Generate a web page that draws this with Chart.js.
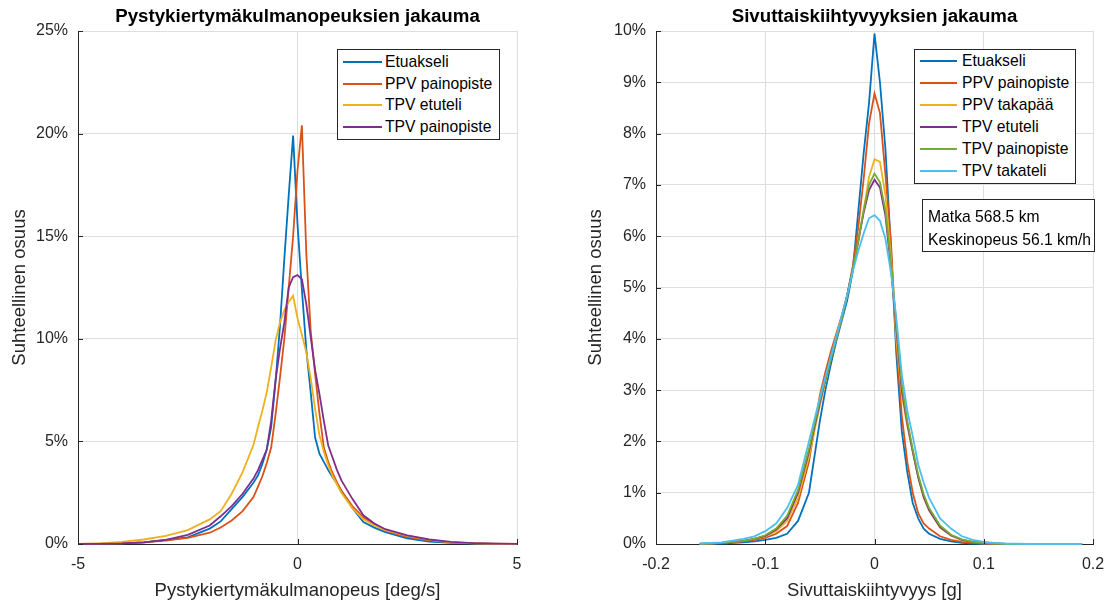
<!DOCTYPE html>
<html>
<head>
<meta charset="utf-8">
<script src="https://cdn.jsdelivr.net/npm/chart.js@4.4.1/dist/chart.umd.min.js"></script>
<style>
  html, body { margin: 0; padding: 0; background: #fff; }
  #wrap { position: relative; width: 1109px; height: 602px; overflow: hidden;
          font-family: "Liberation Sans", Arial, sans-serif; }
  canvas { position: absolute; top: 0; }
  .box { position: absolute; border: 1px solid #262626; background: #fff; box-sizing: border-box; }
  .row { position: absolute; height: 18px; line-height: 18px; font-size: 15.7px; color: #000; white-space: nowrap; }
  .sw { position: absolute; height: 2px; }
</style>
</head>
<body>
<div id="wrap">
  <canvas id="left" width="554" height="602" style="left:0"></canvas>
  <canvas id="right" width="555" height="602" style="left:554px"></canvas>
  <div id="legendLeft" class="box" style="left:337px;top:49px;width:163px;height:91px"></div>
  <div id="legendRight" class="box" style="left:914px;top:49px;width:162px;height:135px"></div>
  <div id="note" class="box" style="left:922px;top:199px;width:173px;height:53px"></div>
</div>
<script>
// Pitch-rate distribution (deg/s -> share in %)
const pitchRate = [-5, -4.5, -4, -3.5, -3, -2.5, -2, -1.75, -1.5, -1.25, -1, -0.9, -0.8, -0.7, -0.6, -0.5, -0.4, -0.3, -0.2, -0.1, 0,
                   0.1, 0.2, 0.3, 0.4, 0.5, 0.6, 0.7, 0.8, 0.9, 1, 1.25, 1.5, 1.75, 2, 2.5, 3, 3.5, 4, 4.5, 5];
const pitchEtuakseli = [0, 0.01, 0.03, 0.08, 0.2, 0.32, 0.75, 1.1, 1.7, 2.3, 3.0, 3.35, 3.9, 4.6, 5.7, 7.9, 10.6, 13.9, 17.0, 19.9, 15.6,
                        12.4, 9.5, 7.4, 5.2, 4.4, 4.0, 3.6, 3.25, 2.95, 2.6, 1.75, 1.07, 0.8, 0.58, 0.28, 0.12, 0.05, 0.02, 0.01, 0];
const pitchPpvPaino = [0, 0.02, 0.03, 0.08, 0.17, 0.3, 0.55, 0.8, 1.15, 1.6, 2.3, 2.8, 3.3, 3.95, 4.7, 6.3, 8.1, 10.0, 12.5, 15.0, 18.2,
                       20.4, 14.2, 10.4, 8.3, 6.35, 4.7, 4.0, 3.45, 3.0, 2.6, 1.85, 1.3, 0.95, 0.65, 0.35, 0.18, 0.08, 0.04, 0.02, 0.01];
const pitchTpvEtuteli = [0.01, 0.03, 0.1, 0.22, 0.4, 0.68, 1.2, 1.6, 2.45, 3.5, 4.85, 5.7, 6.5, 7.4, 8.6, 9.9, 10.8, 11.4, 11.8, 12.1, 11.0,
                         10.2, 9.35, 8.1, 6.6, 5.3, 4.5, 3.85, 3.3, 2.9, 2.5, 1.75, 1.2, 0.9, 0.68, 0.4, 0.2, 0.08, 0.03, 0.01, 0];
const pitchTpvPaino = [0, 0.01, 0.03, 0.08, 0.2, 0.45, 0.9, 1.35, 1.85, 2.45, 3.2, 3.6, 4.1, 4.6, 6.0, 8.0, 9.5, 10.8, 12.5, 13.0, 13.1,
                       12.9, 11.7, 10.1, 8.5, 7.3, 6.0, 4.8, 4.2, 3.6, 3.1, 2.2, 1.4, 1.0, 0.72, 0.42, 0.22, 0.1, 0.04, 0.02, 0.01];
const pitchTicks = [-5, 0, 5];

// Lateral acceleration distribution (g -> share in %)
const latAcc = [-0.16, -0.14, -0.12, -0.11, -0.1, -0.09, -0.08, -0.07, -0.06, -0.05, -0.045, -0.04, -0.035, -0.03, -0.025, -0.02, -0.015, -0.01, -0.005, 0,
                0.005, 0.01, 0.015, 0.02, 0.025, 0.03, 0.035, 0.04, 0.045, 0.05, 0.06, 0.07, 0.08, 0.09, 0.1, 0.11, 0.12, 0.14, 0.16, 0.19];
const latEtuakseli = [0, 0.01, 0.03, 0.05, 0.08, 0.12, 0.2, 0.45, 1.0, 2.4, 3.0, 3.5, 3.95, 4.35, 4.75, 5.3, 6.45, 7.6, 8.6, 9.95,
                      9.0, 7.7, 5.8, 3.7, 2.2, 1.4, 0.8, 0.5, 0.3, 0.2, 0.1, 0.05, 0.02, 0.01, 0, 0, 0, 0, 0, 0];
const latPpvPaino = [0, 0.02, 0.05, 0.08, 0.12, 0.2, 0.35, 0.8, 1.6, 2.9, 3.35, 3.75, 4.1, 4.45, 4.85, 5.4, 6.15, 7.1, 8.2, 8.78,
                     8.4, 7.2, 5.9, 3.9, 2.5, 1.6, 1.0, 0.6, 0.4, 0.3, 0.15, 0.08, 0.04, 0.02, 0.01, 0, 0, 0, 0, 0];
const latPpvTaka = [0, 0.02, 0.06, 0.1, 0.15, 0.25, 0.45, 0.9, 1.7, 2.7, 3.15, 3.6, 4.0, 4.4, 4.85, 5.35, 5.85, 6.5, 7.15, 7.5,
                    7.45, 6.8, 5.6, 4.0, 2.9, 2.3, 1.8, 1.3, 0.9, 0.65, 0.32, 0.16, 0.08, 0.04, 0.02, 0.01, 0, 0, 0, 0];
const latTpvEtuteli = [0, 0.02, 0.06, 0.1, 0.16, 0.28, 0.5, 1.0, 1.8, 2.75, 3.2, 3.6, 4.0, 4.4, 4.85, 5.35, 5.9, 6.45, 6.9, 7.1,
                       6.95, 6.4, 5.4, 4.2, 3.0, 2.35, 1.8, 1.3, 0.92, 0.66, 0.33, 0.17, 0.08, 0.04, 0.02, 0.01, 0, 0, 0, 0];
const latTpvPaino = [0, 0.02, 0.06, 0.1, 0.17, 0.3, 0.55, 1.05, 1.85, 2.8, 3.2, 3.6, 4.0, 4.4, 4.85, 5.35, 5.9, 6.5, 7.0, 7.22,
                     7.05, 6.5, 5.5, 4.3, 3.1, 2.4, 1.85, 1.35, 0.97, 0.7, 0.36, 0.18, 0.09, 0.04, 0.02, 0.01, 0, 0, 0, 0];
const latTpvTaka = [0.01, 0.03, 0.1, 0.15, 0.25, 0.4, 0.7, 1.15, 2.0, 2.85, 3.25, 3.65, 4.05, 4.45, 4.85, 5.3, 5.7, 6.05, 6.35, 6.41,
                    6.3, 5.95, 5.3, 4.4, 3.3, 2.6, 2.1, 1.55, 1.2, 0.9, 0.5, 0.3, 0.15, 0.08, 0.04, 0.02, 0.01, 0, 0, 0];
const latTicks = [-0.2, -0.1, 0, 0.1, 0.2];

const pitchNames = ['Etuakseli', 'PPV painopiste', 'TPV etuteli', 'TPV painopiste'];
const latNames = ['Etuakseli', 'PPV painopiste', 'PPV takapää', 'TPV etuteli', 'TPV painopiste', 'TPV takateli'];
const noteLines = ['Matka 568.5 km', 'Keskinopeus 56.1 km/h'];

const C = { blue: '#0072BD', orange: '#D95319', yellow: '#EDB120', purple: '#7E2F8E', green: '#77AC30', cyan: '#4DBEEE' };
const pitchColors = [C.blue, C.orange, C.yellow, C.purple];
const latColors = [C.blue, C.orange, C.yellow, C.purple, C.green, C.cyan];

const FONT = '"Liberation Sans", Arial, sans-serif';
Chart.defaults.font.family = FONT;
Chart.defaults.color = '#262626';

// short inward tick marks on the left and bottom axes
const innerTicks = {
  id: 'innerTicks',
  afterDatasetsDraw(chart) {
    const { ctx, chartArea: a, scales: { x, y } } = chart;
    ctx.save();
    ctx.strokeStyle = '#262626';
    ctx.lineWidth = 1;
    ctx.beginPath();
    x.ticks.forEach(t => {
      const px = Math.round(x.getPixelForValue(t.value)) + 0.5;
      ctx.moveTo(px, a.bottom); ctx.lineTo(px, a.bottom - 5);
    });
    y.ticks.forEach(t => {
      const py = Math.round(y.getPixelForValue(t.value)) + 0.5;
      ctx.moveTo(a.left, py); ctx.lineTo(a.left + 5, py);
    });
    ctx.stroke();
    ctx.restore();
  }
};

function series(xs, ys) { return xs.map((x, i) => ({ x, y: ys[i] })); }

function makeChart(id, cfg) {
  const n = cfg.values.length;
  const datasets = cfg.values.map((vals, i) => ({
    label: cfg.names[i],
    data: series(cfg.xs, vals),
    borderColor: cfg.colors[i],
    backgroundColor: cfg.colors[i],
    borderWidth: 1.8,
    pointRadius: 0,
    tension: 0,
    clip: false,
    order: n - i
  }));
  return new Chart(document.getElementById(id), {
    type: 'line',
    data: { datasets },
    options: {
      responsive: false,
      animation: false,
      events: [],
      layout: { padding: { top: 0, left: 0, bottom: 0, right: cfg.padRight } },
      plugins: {
        legend: { display: false },
        tooltip: { enabled: false },
        title: {
          display: true, text: cfg.title, color: '#000', fullSize: false,
          font: { size: 18.7, weight: 'bold', lineHeight: 1.2 },
          padding: { top: 6, bottom: 2.56 }
        }
      },
      scales: {
        x: {
          type: 'linear', min: cfg.xMin, max: cfg.xMax,
          afterBuildTicks: s => { s.ticks = cfg.xTicks.map(v => ({ value: v })); },
          afterFit: s => { s.height = 58; s.paddingLeft = 0; s.paddingRight = 0; },
          grid: { color: '#dedede', drawTicks: false, lineWidth: 1 },
          border: { color: '#262626', width: 1 },
          ticks: { padding: 11, font: { size: 16 }, color: '#262626', maxRotation: 0, autoSkip: false,
                   callback: v => cfg.xFmt(v) },
          title: { display: true, text: cfg.xLabel, color: '#262626', font: { size: 18.5, lineHeight: 1.2 },
                   padding: { top: 0, bottom: 0 } }
        },
        y: {
          type: 'linear', min: 0, max: cfg.yMax,
          ticks: { stepSize: cfg.yStep, padding: 10, font: { size: 16 }, color: '#262626',
                   callback: v => v + '%' },
          afterFit: s => { s.width = cfg.yWidth; s.paddingTop = 0; s.paddingBottom = 0; },
          grid: { color: '#dedede', drawTicks: false, lineWidth: 1 },
          border: { color: '#262626', width: 1 },
          title: { display: true, text: 'Suhteellinen osuus', color: '#262626', font: { size: 18.5, lineHeight: 1.2 },
                   padding: { top: cfg.yTitlePad, bottom: 0 } }
        }
      }
    },
    plugins: [innerTicks]
  });
}

makeChart('left', {
  title: 'Pystykiertymäkulmanopeuksien jakauma',
  xLabel: 'Pystykiertymäkulmanopeus [deg/s]',
  xs: pitchRate,
  values: [pitchEtuakseli, pitchPpvPaino, pitchTpvEtuteli, pitchTpvPaino],
  names: pitchNames, colors: pitchColors,
  xMin: -5, xMax: 5, xTicks: pitchTicks, xFmt: v => String(v),
  yMax: 25, yStep: 5, yWidth: 78, yTitlePad: 9, padRight: 37
});

makeChart('right', {
  title: 'Sivuttaiskiihtyvyyksien jakauma',
  xLabel: 'Sivuttaiskiihtyvyys [g]',
  xs: latAcc,
  values: [latEtuakseli, latPpvPaino, latPpvTaka, latTpvEtuteli, latTpvPaino, latTpvTaka],
  names: latNames, colors: latColors,
  xMin: -0.2, xMax: 0.2, xTicks: latTicks, xFmt: v => String(Math.round(v * 10) / 10),
  yMax: 10, yStep: 1, yWidth: 102, yTitlePad: 31, padRight: 16
});

// legend boxes and the trip note
function fillLegend(el, names, colors, firstRow, rowStep, swLeft, swWidth, textLeft) {
  names.forEach((name, i) => {
    const cy = firstRow + i * rowStep;
    const sw = document.createElement('div');
    sw.className = 'sw';
    sw.style.cssText = `left:${swLeft}px;top:${cy - 1}px;width:${swWidth}px;background:${colors[i]}`;
    el.appendChild(sw);
    const t = document.createElement('div');
    t.className = 'row';
    t.style.cssText = `left:${textLeft}px;top:${cy - 9}px`;
    t.textContent = name;
    el.appendChild(t);
  });
}
fillLegend(document.getElementById('legendLeft'), pitchNames, pitchColors, 12, 21.5, 5, 39, 47);
fillLegend(document.getElementById('legendRight'), latNames, latColors, 11, 21.9, 5, 37, 47);

const note = document.getElementById('note');
noteLines.forEach((line, i) => {
  const t = document.createElement('div');
  t.className = 'row';
  t.style.cssText = `left:5px;top:${17 - 9 + i * 22.6}px`;
  t.textContent = line;
  note.appendChild(t);
});
</script>
</body>
</html>
